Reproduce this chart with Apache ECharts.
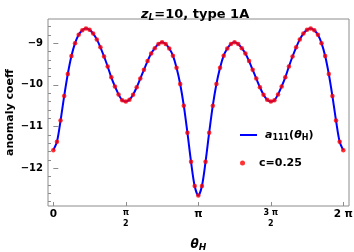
<!DOCTYPE html>
<html><head><meta charset="utf-8">
<script src="https://cdn.jsdelivr.net/npm/echarts@6/dist/echarts.min.js"></script>
<style>html,body{margin:0;padding:0;background:#fff}#c{width:354px;height:252px}</style>
</head><body><div id="c"></div>
<script>
// sample spacing of the plotted points (theta step)
const thetaStep = Math.PI / 40;
// anomaly coefficient read at theta = k*pi/40, k = 0..80
const anomalyValues = [
  -11.57, -11.37, -10.86, -10.27, -9.74, -9.31, -9.00, -8.80, -8.69, -8.65,
  -8.68, -8.77, -8.91, -9.10, -9.32, -9.56, -9.82, -10.04, -10.23, -10.37,
  -10.40, -10.36, -10.24, -10.06, -9.85, -9.64, -9.43, -9.25, -9.12, -9.02,
  -8.98, -9.02, -9.13, -9.30, -9.59, -9.98, -10.50, -11.15, -11.85, -12.43,
  -12.66,
  -12.43, -11.85, -11.15, -10.50, -9.98, -9.59, -9.30, -9.13, -9.02,
  -8.98, -9.02, -9.12, -9.25, -9.43, -9.64, -9.85, -10.06, -10.24, -10.36,
  -10.40, -10.37, -10.23, -10.04, -9.82, -9.56, -9.32, -9.10, -8.91, -8.77,
  -8.68, -8.65, -8.69, -8.80, -9.00, -9.31, -9.74, -10.27, -10.86, -11.37,
  -11.57
];
const xTickValues = [0, Math.PI / 2, Math.PI, 3 * Math.PI / 2, 2 * Math.PI];
const xTickLabels = ['{m|0}', '{f|π}\n{f|2}', '{m|π}', '{f|3 π}\n{f|2}', '{m|2 π}'];
const yTickValues = [-12, -11, -10, -9];
const yTickLabels = ['−12', '−11', '−10', '−9'];
const yMinorTicks = [-12.8, -12.6, -12.4, -12.2, -11.8, -11.6, -11.4, -11.2, -10.8, -10.6, -10.4, -10.2,
  -9.8, -9.6, -9.4, -9.2, -8.8, -8.6];

const pts = anomalyValues.map((v, k) => [k * thetaStep, v]);
const FONT = 'DejaVu Sans';
const X_MIN = -0.115, X_MAX = 6.407, Y_MIN = -12.91, Y_MAX = -8.42;
const FRAME = '#8c8c8c';

const chart = echarts.init(document.getElementById('c'), null, {renderer: 'canvas'});
chart.setOption({
  animation: false,
  backgroundColor: '#fff',
  title: {
    text: '{z|z}{s|L}{t|=10, type 1A}',
    left: 136, top: 2,
    textStyle: {
      rich: {
        z: {fontFamily: FONT, fontSize: 13, fontWeight: 'bold', fontStyle: 'italic', color: '#000'},
        s: {fontFamily: FONT, fontSize: 9, fontWeight: 'bold', fontStyle: 'italic', color: '#000', padding: [6, 0, 0, 0]},
        t: {fontFamily: FONT, fontSize: 13, fontWeight: 'bold', color: '#000'}
      }
    }
  },
  grid: {left: 48, right: 5, top: 19, bottom: 46, show: true, borderColor: FRAME, borderWidth: 1,
    backgroundColor: 'transparent', containLabel: false, outerBoundsMode: 'none'},
  legend: [
    {
      data: [{name: 'a111', icon: 'rect'}], left: 235, top: 124, itemWidth: 17, itemHeight: 2,
      formatter: () => '{p0|}{i|a}{s|111}{p|(}{i|θ}{s|H}{p|)}',
      textStyle: {
        rich: {
          p0: {width: 3},
          i: {fontFamily: FONT, fontSize: 11, fontWeight: 'bold', fontStyle: 'italic', color: '#000'},
          s: {fontFamily: FONT, fontSize: 8, fontWeight: 'bold', color: '#000', padding: [6, 0, 0, 0]},
          p: {fontFamily: FONT, fontSize: 11, fontWeight: 'bold', color: '#000'}
        }
      }
    },
    {
      data: [{name: 'c=0.25', icon: 'circle'}], left: 235, top: 152, itemWidth: 17, itemHeight: 5,
      formatter: () => '{p0|}{b|c=0.25}',
      textStyle: {
        rich: {
          p0: {width: 3},
          b: {fontFamily: FONT, fontSize: 11, fontWeight: 'bold', color: '#000'}
        }
      }
    }
  ],
  xAxis: {
    type: 'value', min: X_MIN, max: X_MAX,
    name: '{i|θ}{s|H}', nameLocation: 'middle', nameGap: 31, nameMoveOverlap: false,
    nameTextStyle: {
      rich: {
        i: {fontFamily: FONT, fontSize: 12, fontWeight: 'bold', fontStyle: 'italic', color: '#000'},
        s: {fontFamily: FONT, fontSize: 9, fontWeight: 'bold', fontStyle: 'italic', color: '#000', padding: [6, 0, 0, 0]}
      }
    },
    axisLine: {show: false},
    splitLine: {show: false},
    axisTick: {show: true, inside: true, length: 4, customValues: xTickValues, lineStyle: {color: FRAME}},
    axisLabel: {
      customValues: xTickValues, margin: 1, color: '#000',
      formatter: (v) => {
        let best = 0;
        xTickValues.forEach((t, i) => { if (Math.abs(t - v) < Math.abs(xTickValues[best] - v)) best = i; });
        return xTickLabels[best];
      },
      rich: {
        m: {fontFamily: FONT, fontSize: 10.5, fontWeight: 'bold', color: '#000', lineHeight: 14},
        f: {fontFamily: FONT, fontSize: 8, fontWeight: 'bold', color: '#000', lineHeight: 11}
      }
    }
  },
  yAxis: [
    {
      type: 'value', min: Y_MIN, max: Y_MAX,
      name: 'anomaly coeff', nameLocation: 'middle', nameGap: 32, nameMoveOverlap: false,
      nameTextStyle: {fontFamily: FONT, fontSize: 11, fontWeight: 'bold', color: '#000'},
      axisLine: {show: false},
      splitLine: {show: false},
      axisTick: {show: true, inside: true, length: 5, customValues: yTickValues, lineStyle: {color: FRAME}},
      axisLabel: {
        customValues: yTickValues, margin: 5, color: '#000',
        fontFamily: FONT, fontSize: 10, fontWeight: 'bold',
        formatter: (v) => yTickLabels[yTickValues.indexOf(Math.round(v))]
      }
    },
    {
      type: 'value', min: Y_MIN, max: Y_MAX, position: 'left', offset: 0,
      axisLine: {show: false},
      splitLine: {show: false},
      axisTick: {show: true, inside: true, length: 3, customValues: yMinorTicks, lineStyle: {color: FRAME}},
      axisLabel: {show: false, customValues: yMinorTicks}
    }
  ],
  series: [
    {
      name: 'a111', type: 'line', data: pts, symbol: 'none', smooth: 0.3,
      lineStyle: {color: '#0000ff', width: 2}, itemStyle: {color: '#0000ff'}, z: 2
    },
    {
      name: 'c=0.25', type: 'scatter', data: pts, symbol: 'circle', symbolSize: 4.5,
      itemStyle: {color: '#ff0000'}, z: 3
    }
  ]
});
</script>
</body></html>
